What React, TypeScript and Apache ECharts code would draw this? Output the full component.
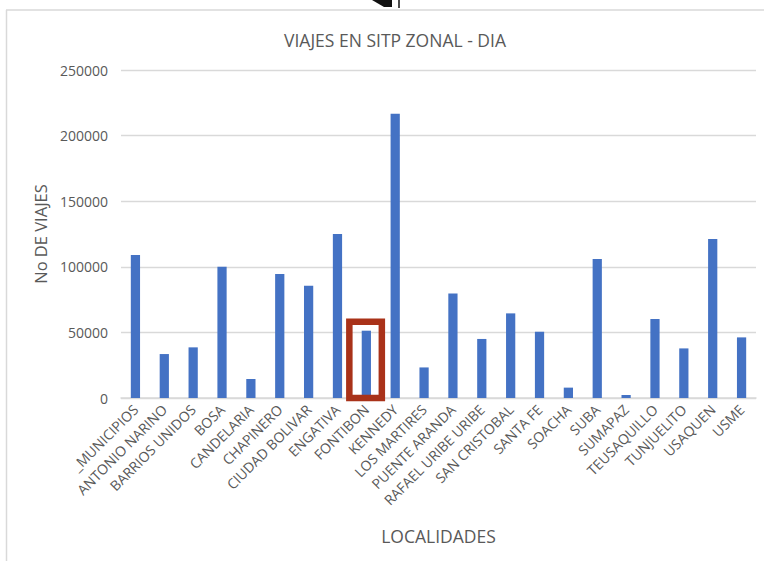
import React, { useEffect, useRef } from "react";
import * as echarts from "echarts";

const categories = [
  "_MUNICIPIOS", "ANTONIO NARINO", "BARRIOS UNIDOS", "BOSA", "CANDELARIA", "CHAPINERO",
  "CIUDAD BOLIVAR", "ENGATIVA", "FONTIBON", "KENNEDY", "LOS MARTIRES", "PUENTE ARANDA",
  "RAFAEL URIBE URIBE", "SAN CRISTOBAL", "SANTA FE", "SOACHA", "SUBA", "SUMAPAZ",
  "TEUSAQUILLO", "TUNJUELITO", "USAQUEN", "USME",
];
const viajes = [
  109000, 33500, 38600, 100000, 14500, 94500,
  85600, 125000, 51300, 216700, 23300, 79600,
  45000, 64500, 50500, 7900, 106000, 2300,
  60200, 37800, 121200, 46200,
];
const highlighted = "FONTIBON";
const title = "VIAJES EN SITP ZONAL - DIA";
const yName = "No DE VIAJES";
const xName = "LOCALIDADES";

const FONT = "'Open Sans', sans-serif";
const TXT = "#595959";
const GRID = "#d9d9d9";

export default function App() {
  const ref = useRef<HTMLDivElement>(null);
  useEffect(() => {
    if (!ref.current) return;
    const chart = echarts.init(ref.current, undefined, { renderer: "svg" });
    chart.setOption({
      animation: false,
      backgroundColor: "#ffffff",
      textStyle: { fontFamily: FONT },
      title: {
        text: title,
        left: 390,
        top: 26,
        textAlign: "center",
        textStyle: { fontFamily: FONT, fontSize: 17.5, fontWeight: "normal", color: TXT },
      },
      grid: { left: 121, right: 8, top: 70, bottom: 163, containLabel: false },
      xAxis: {
        type: "category",
        data: categories,
        name: xName,
        nameLocation: "middle",
        nameGap: 129,
        nameTextStyle: { fontFamily: FONT, fontSize: 17.5, color: TXT },
        axisLine: { lineStyle: { color: GRID, width: 1.5 } },
        axisTick: { show: false },
        axisLabel: { interval: 0, rotate: 45, fontSize: 14, color: TXT, margin: 9, fontFamily: FONT },
      },
      yAxis: {
        type: "value",
        min: 0,
        max: 250000,
        interval: 50000,
        name: yName,
        nameLocation: "middle",
        nameGap: 70,
        nameTextStyle: { fontFamily: FONT, fontSize: 16.5, color: TXT },
        axisLine: { show: false },
        axisTick: { show: false },
        axisLabel: {
          fontSize: 14,
          color: TXT,
          margin: 13,
          fontFamily: FONT,
          formatter: (v: number) => String(v),
        },
        splitLine: { lineStyle: { color: GRID, width: 1.3 } },
      },
      series: [
        {
          type: "bar",
          data: viajes,
          barWidth: "32%",
          itemStyle: { color: "#4472C4" },
        },
      ],
      graphic: [
        { type: "line", shape: { x1: 6.5, y1: 10, x2: 6.5, y2: 561 }, style: { stroke: GRID, lineWidth: 1.5 } },
        { type: "line", shape: { x1: 6, y1: 10, x2: 764, y2: 10 }, style: { stroke: GRID, lineWidth: 1.5 } },
        { type: "polygon", shape: { points: [[372, 0], [392, 0], [392, 7], [384, 7]] }, style: { fill: "#111" } },
        { type: "line", shape: { x1: 399, y1: 0, x2: 399, y2: 8 }, style: { stroke: "#111", lineWidth: 1.5 } },
      ],
    });
    const idx = categories.indexOf(highlighted);
    const [cx, yTop] = chart.convertToPixel({ seriesIndex: 0 }, [idx, viajes[idx]]) as number[];
    const [, y0] = chart.convertToPixel({ seriesIndex: 0 }, [idx, 0]) as number[];
    chart.setOption({
      graphic: [
        {
          type: "rect",
          id: "highlight",
          shape: { x: cx - 17, y: yTop - 9, width: 32.5, height: y0 - (yTop - 9) },
          style: { fill: "none", stroke: "#A93219", lineWidth: 6.5 },
          z: 100,
        },
      ],
    });
    return () => chart.dispose();
  }, []);
  return <div ref={ref} style={{ position: "fixed", left: 0, top: 0, width: 764, height: 561 }} />;
}
